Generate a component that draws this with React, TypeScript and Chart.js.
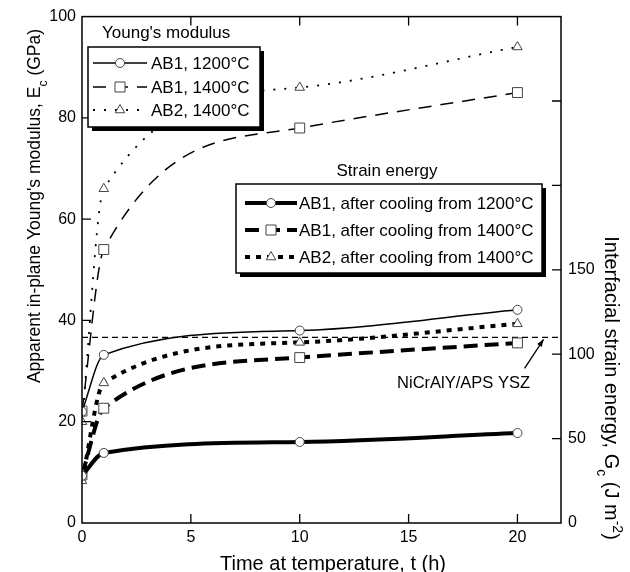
import React, { useEffect, useRef } from 'react';
import { Chart, registerables } from 'chart.js';

Chart.register(...registerables);

// ---- data ----
const times = [0, 1, 10, 20];
// Young's modulus (GPa, left axis)
const youngAB1_1200 = [22, 33.2, 38, 42.1];
const youngAB1_1400 = [22.1, 54, 78, 85];
const youngAB2_1400 = [20, 66, 86, 94];
// Interfacial strain energy (J m^-2, right axis)
const strainAB1_1200 = [28, 41.5, 48, 53.3];
const strainAB1_1400 = [28.5, 68, 98, 106.7];
const strainAB2_1400 = [25, 83, 107, 118];
const referenceStrain = 110; // NiCrAlY/APS YSZ
const referenceLabel = 'NiCrAlY/APS YSZ';

const youngLabels = ['AB1, 1200°C', 'AB1, 1400°C', 'AB2, 1400°C'];
const strainLabels = [
  'AB1, after cooling from 1200°C',
  'AB1, after cooling from 1400°C',
  'AB2, after cooling from 1400°C',
];

const FONT = '"Liberation Sans", Arial, Helvetica, sans-serif';

type Marker = 'circle' | 'rect' | 'triangle';
interface Style { width: number; dash: number[]; marker: Marker; }

const youngStyles: Style[] = [
  { width: 1.5, dash: [], marker: 'circle' },
  { width: 1.5, dash: [13, 9], marker: 'rect' },
  { width: 1.8, dash: [2, 9], marker: 'triangle' },
];
const strainStyles: Style[] = [
  { width: 4, dash: [], marker: 'circle' },
  { width: 4, dash: [14, 7], marker: 'rect' },
  { width: 4, dash: [5, 6], marker: 'triangle' },
];

const markerRadius: Record<Marker, number> = { circle: 4.5, rect: 7, triangle: 5.5 };

function drawMarker(ctx: CanvasRenderingContext2D, x: number, y: number, m: Marker) {
  ctx.save();
  ctx.setLineDash([]);
  ctx.lineWidth = 1;
  ctx.strokeStyle = '#444';
  ctx.fillStyle = '#fff';
  ctx.beginPath();
  if (m === 'circle') {
    ctx.arc(x, y, 4.5, 0, Math.PI * 2);
  } else if (m === 'rect') {
    ctx.rect(x - 5, y - 5, 10, 10);
  } else {
    const r = 5.5;
    ctx.moveTo(x, y - r);
    ctx.lineTo(x + r * Math.cos(Math.PI / 6), y + r * 0.5);
    ctx.lineTo(x - r * Math.cos(Math.PI / 6), y + r * 0.5);
    ctx.closePath();
  }
  ctx.fill();
  ctx.stroke();
  ctx.restore();
}

interface Seg { t: string; s?: 'sub' | 'sup'; }

function drawRich(ctx: CanvasRenderingContext2D, segs: Seg[], fs: number) {
  const small = fs * 0.7;
  const widths = segs.map((g) => {
    ctx.font = `${g.s ? small : fs}px ${FONT}`;
    return ctx.measureText(g.t).width;
  });
  const total = widths.reduce((a, b) => a + b, 0);
  let cx = -total / 2;
  ctx.textAlign = 'left';
  ctx.textBaseline = 'alphabetic';
  segs.forEach((g, i) => {
    ctx.font = `${g.s ? small : fs}px ${FONT}`;
    const dy = g.s === 'sub' ? fs * 0.38 : g.s === 'sup' ? -fs * 0.42 : 0;
    ctx.fillText(g.t, cx, dy);
    cx += widths[i];
  });
}

function drawLegendBox(ctx: CanvasRenderingContext2D, x: number, y: number, w: number, h: number) {
  ctx.save();
  ctx.fillStyle = '#000';
  ctx.fillRect(x + 4, y + 4, w, h);
  ctx.fillStyle = '#fff';
  ctx.fillRect(x, y, w, h);
  ctx.lineWidth = 1.5;
  ctx.strokeStyle = '#000';
  ctx.strokeRect(x, y, w, h);
  ctx.restore();
}

function drawSample(ctx: CanvasRenderingContext2D, x1: number, x2: number, y: number, st: Style) {
  ctx.save();
  ctx.strokeStyle = '#000';
  ctx.lineWidth = st.width;
  ctx.setLineDash(st.dash);
  ctx.beginPath();
  ctx.moveTo(x1, y);
  ctx.lineTo(x2, y);
  ctx.stroke();
  ctx.restore();
  drawMarker(ctx, (x1 + x2) / 2, y, st.marker);
}

const decorPlugin = {
  id: 'decor',
  beforeDatasetsDraw(chart: any) {
    const { ctx, chartArea: a, scales } = chart;
    const yr = scales.y2.getPixelForValue(referenceStrain);
    ctx.save();
    ctx.strokeStyle = '#000';
    ctx.lineWidth = 1.2;
    ctx.setLineDash([6, 4]);
    ctx.beginPath();
    ctx.moveTo(a.left, yr);
    ctx.lineTo(a.right, yr);
    ctx.stroke();
    ctx.restore();
  },
  afterDatasetsDraw(chart: any) {
    const { ctx, chartArea: a, scales } = chart;
    const xs = scales.x, ys = scales.y, ys2 = scales.y2;
    ctx.save();
    // frame
    ctx.strokeStyle = '#000';
    ctx.lineWidth = 1.5;
    ctx.setLineDash([]);
    ctx.strokeRect(a.left, a.top, a.right - a.left, a.bottom - a.top);
    // ticks
    const tl = 9;
    ctx.lineWidth = 1.3;
    ctx.beginPath();
    xs.ticks.forEach((t: any) => {
      const px = xs.getPixelForValue(t.value);
      if (px <= a.left + 1 || px >= a.right - 1) return;
      ctx.moveTo(px, a.bottom); ctx.lineTo(px, a.bottom - tl);
      ctx.moveTo(px, a.top); ctx.lineTo(px, a.top + tl);
    });
    ys.ticks.forEach((t: any) => {
      const py = ys.getPixelForValue(t.value);
      if (py <= a.top + 1 || py >= a.bottom - 1) return;
      ctx.moveTo(a.left, py); ctx.lineTo(a.left + tl, py);
    });
    ys2.ticks.forEach((t: any) => {
      const py = ys2.getPixelForValue(t.value);
      if (py <= a.top + 1 || py >= a.bottom - 1) return;
      ctx.moveTo(a.right, py); ctx.lineTo(a.right - tl, py);
    });
    ctx.stroke();

    // annotation arrow
    const tipX = xs.getPixelForValue(21.2);
    const tipY = ys2.getPixelForValue(referenceStrain) + 2;
    const tailX = tipX - 19, tailY = tipY + 29;
    ctx.lineWidth = 1.3;
    ctx.beginPath();
    ctx.moveTo(tailX, tailY);
    ctx.lineTo(tipX, tipY);
    ctx.stroke();
    const ang = Math.atan2(tipY - tailY, tipX - tailX);
    ctx.fillStyle = '#000';
    ctx.beginPath();
    ctx.moveTo(tipX, tipY);
    ctx.lineTo(tipX - 8 * Math.cos(ang - 0.35), tipY - 8 * Math.sin(ang - 0.35));
    ctx.lineTo(tipX - 8 * Math.cos(ang + 0.35), tipY - 8 * Math.sin(ang + 0.35));
    ctx.closePath();
    ctx.fill();
    ctx.font = `16.5px ${FONT}`;
    ctx.textAlign = 'center';
    ctx.textBaseline = 'alphabetic';
    ctx.fillText(referenceLabel, tipX - 80, tipY + 49);

    // legend 1: Young's modulus
    ctx.font = `17px ${FONT}`;
    ctx.textAlign = 'left';
    ctx.textBaseline = 'middle';
    ctx.fillText("Young's modulus", 102, 33);
    drawLegendBox(ctx, 88, 47, 172, 80);
    const rows1 = [63, 87, 110];
    youngLabels.forEach((lab, i) => {
      drawSample(ctx, 93, 147, rows1[i], youngStyles[i]);
      ctx.fillStyle = '#000';
      ctx.font = `17px ${FONT}`;
      ctx.textAlign = 'left';
      ctx.textBaseline = 'middle';
      ctx.fillText(lab, 151, rows1[i] + 1);
    });

    // legend 2: Strain energy
    ctx.fillStyle = '#000';
    ctx.font = `17px ${FONT}`;
    ctx.textAlign = 'center';
    ctx.textBaseline = 'middle';
    ctx.fillText('Strain energy', 387, 171);
    drawLegendBox(ctx, 236, 184, 306, 89);
    const rows2 = [203, 230, 257];
    strainLabels.forEach((lab, i) => {
      drawSample(ctx, 245, 297, rows2[i], strainStyles[i]);
      ctx.fillStyle = '#000';
      ctx.font = `17px ${FONT}`;
      ctx.textAlign = 'left';
      ctx.textBaseline = 'middle';
      ctx.fillText(lab, 299, rows2[i] + 1);
    });

    // axis titles
    ctx.fillStyle = '#000';
    ctx.save();
    ctx.translate(40, 206);
    ctx.rotate(-Math.PI / 2);
    drawRich(ctx, [
      { t: "Apparent in-plane Young's modulus, E" },
      { t: 'c', s: 'sub' },
      { t: ' (GPa)' },
    ], 17.5);
    ctx.restore();

    ctx.save();
    ctx.translate(605, 388);
    ctx.rotate(Math.PI / 2);
    drawRich(ctx, [
      { t: 'Interfacial strain energy, G' },
      { t: 'c', s: 'sub' },
      { t: ' (J m' },
      { t: '-2', s: 'sup' },
      { t: ')' },
    ], 20);
    ctx.restore();

    ctx.save();
    ctx.translate(333, 570);
    drawRich(ctx, [{ t: 'Time at temperature, t (h)' }], 20);
    ctx.restore();

    ctx.restore();
  },
};

function makeDataset(values: number[], st: Style, axis: string) {
  return {
    data: times.map((t, i) => ({ x: t, y: values[i] })),
    yAxisID: axis,
    borderColor: '#000',
    borderWidth: st.width,
    borderDash: st.dash,
    borderCapStyle: 'butt',
    cubicInterpolationMode: 'monotone',
    fill: false,
    pointStyle: st.marker,
    pointRadius: markerRadius[st.marker],
    pointHoverRadius: markerRadius[st.marker],
    pointBackgroundColor: '#fff',
    pointBorderColor: '#444',
    pointBorderWidth: 1,
  };
}

export default function App() {
  const ref = useRef<HTMLCanvasElement | null>(null);
  useEffect(() => {
    if (!ref.current) return;
    const tickFont = { family: FONT, size: 16 };
    const chart = new Chart(ref.current, {
      type: 'line',
      data: {
        datasets: [
          makeDataset(youngAB1_1200, youngStyles[0], 'y'),
          makeDataset(youngAB1_1400, youngStyles[1], 'y'),
          makeDataset(youngAB2_1400, youngStyles[2], 'y'),
          makeDataset(strainAB1_1200, strainStyles[0], 'y2'),
          makeDataset(strainAB1_1400, strainStyles[1], 'y2'),
          makeDataset(strainAB2_1400, strainStyles[2], 'y2'),
        ] as any,
      },
      options: {
        animation: false,
        responsive: false,
        devicePixelRatio: 1,
        layout: { padding: { top: 16, left: 0, right: 0, bottom: 0 } },
        plugins: { legend: { display: false }, tooltip: { enabled: false } },
        events: [],
        scales: {
          x: {
            type: 'linear',
            position: 'bottom',
            min: 0,
            max: 22,
            ticks: { stepSize: 5, includeBounds: false, font: tickFont, color: '#000', padding: 5, maxRotation: 0 },
            grid: { display: false, drawTicks: false },
            border: { display: false },
            afterFit: (s: any) => { s.height = 49; },
          },
          y: {
            type: 'linear',
            position: 'left',
            min: 0,
            max: 100,
            ticks: { stepSize: 20, font: tickFont, color: '#000', padding: 6 },
            grid: { display: false, drawTicks: false },
            border: { display: false },
            afterFit: (s: any) => { s.width = 82; },
          },
          y2: {
            type: 'linear',
            position: 'right',
            min: 0,
            max: 300,
            ticks: {
              stepSize: 50,
              font: tickFont,
              color: '#000',
              padding: 7,
              callback: (v: any) => (Number(v) <= 150 ? String(v) : ''),
            },
            grid: { display: false, drawTicks: false },
            border: { display: false },
            afterFit: (s: any) => { s.width = 69; },
          },
        },
      } as any,
      plugins: [decorPlugin],
    });
    return () => chart.destroy();
  }, []);
  return (
    <div style={{ position: 'fixed', left: 0, top: 0, width: 630, height: 572, background: '#fff' }}>
      <canvas ref={ref} width={630} height={572} style={{ display: 'block' }} />
    </div>
  );
}
